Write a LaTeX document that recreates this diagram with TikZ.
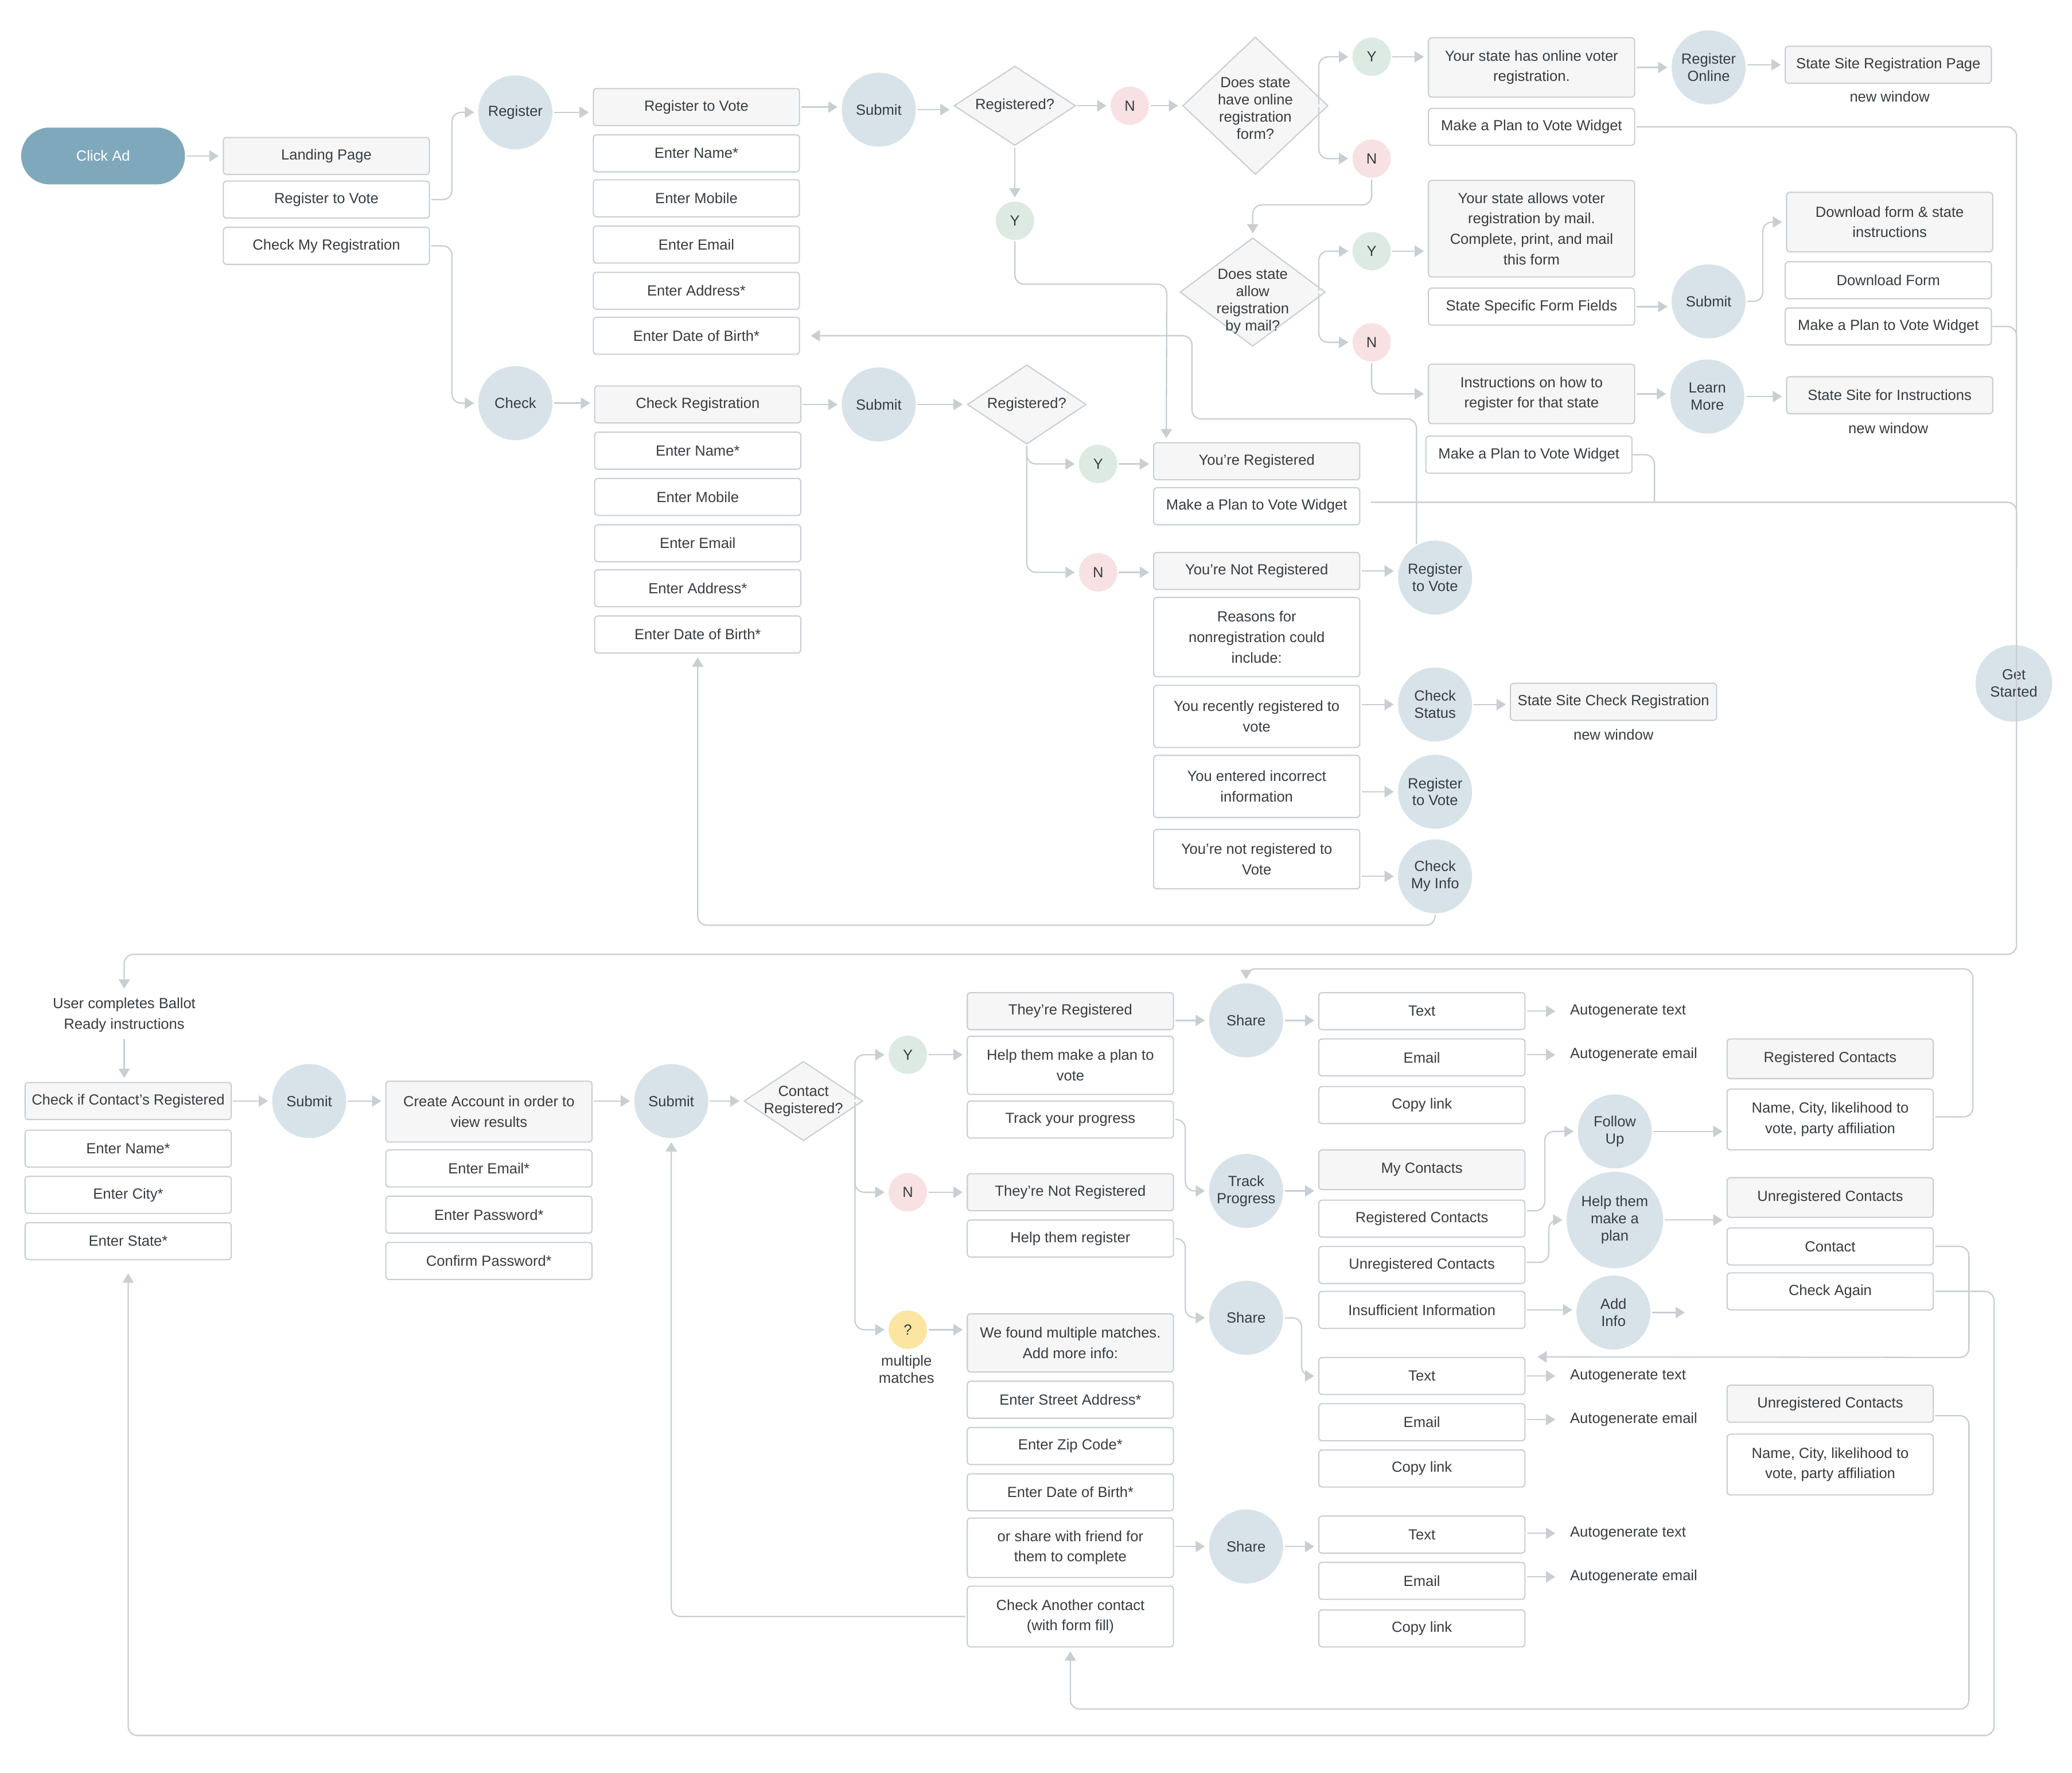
\documentclass[tikz,border=0pt]{standalone}
\usepackage{fontspec}
\setmainfont{Liberation Sans}
\usetikzlibrary{arrows.meta,shapes.geometric}
\definecolor{bd}{HTML}{C9CED3}
\definecolor{lnc}{HTML}{C9CED3}
\definecolor{gf}{HTML}{F6F6F6}
\definecolor{cf}{HTML}{D8E3E9}
\definecolor{adc}{HTML}{7FA8BC}
\definecolor{yf}{HTML}{DCEAE3}
\definecolor{nf}{HTML}{F8E1E3}
\definecolor{qf}{HTML}{FBE5A1}
\definecolor{tc}{HTML}{363C41}
\newcommand\bfnt{\fontsize{11.1}{15.5}\selectfont}
\newcommand\cfnt{\fontsize{11.1}{13}\selectfont}
\tikzset{
  bx/.style={rectangle, rounded corners=2.5pt, draw=bd, line width=0.9pt, fill=white,
    minimum width=156pt, minimum height=28pt, inner sep=1pt, align=center, text=tc, font=\bfnt},
  gbx/.style={bx, fill=gf},
  cir/.style={circle, fill=cf, minimum size=56pt, inner sep=0pt, align=center, text=tc, font=\cfnt},
  yc/.style={circle, fill=yf, minimum size=29pt, inner sep=0pt, text=tc, font=\cfnt},
  nc/.style={yc, fill=nf},
  qc/.style={yc, fill=qf},
  dsh/.style={diamond, draw=bd, line width=0.9pt, fill=gf, inner sep=0pt},
  txt/.style={align=center, text=tc, inner sep=1pt, font=\cfnt},
  lab/.style={anchor=west, text=tc, inner sep=0pt, font=\bfnt},
  arr/.style={draw=lnc, line width=1pt, -{Triangle[length=7pt,width=8.5pt]}, shorten >=3pt, shorten <=1pt},
  cline/.style={draw=lnc, line width=1pt},
  rcr/.style={rounded corners=7pt}
}
\begin{document}
\begin{tikzpicture}[x=1pt,y=-1pt]
\fill[white] (0,0) rectangle (1568,1341);
\useasboundingbox (0,0) rectangle (1568,1341);

% ---------------- top: entry
\node[rectangle, rounded corners=21.5pt, fill=adc, minimum width=124pt, minimum height=43pt, text=white, font=\bfnt] (ad) at (78,118) {Click Ad};
\node[gbx] (lp) at (247,118) {Landing Page};
\node[bx] (rv0) at (247,151) {Register to Vote};
\node[bx] (cmr) at (247,186) {Check My Registration};
\node[cir] (reg) at (390,85) {Register};
\node[cir] (chk) at (390,305) {Check};

% register column
\node[gbx] (f1) at (527,81) {Register to Vote};
\node[bx] (f2) at (527,116) {Enter Name*};
\node[bx] (f3) at (527,150) {Enter Mobile};
\node[bx] (f4) at (527,185) {Enter Email};
\node[bx] (f5) at (527,220) {Enter Address*};
\node[bx] (f6) at (527,254) {Enter Date of Birth*};
\node[cir] (sub1) at (665,83) {Submit};
\node[dsh, minimum width=92pt, minimum height=60pt] (q1) at (768,80) {};
\node[txt] (q1t) at (q1) {Registered?};
\node[nc] (n1) at (855,80) {N};
\node[dsh, minimum width=110pt, minimum height=104pt] (q2) at (950,80) {};
\node[txt] (q2t) at (950,82) {Does state\\have online\\registration\\form?};
\node[yc] (y1) at (1038,43) {Y};
\node[nc] (n2) at (1038,120) {N};
\node[gbx, minimum height=45pt] (os) at (1159,51) {Your state has online voter\\registration.};
\node[cir] (ro) at (1293,51) {Register\\Online};
\node[gbx] (ssr) at (1429,49) {State Site Registration Page};
\node[txt] (nw1) at (1430,73) {new window};
\node[bx] (mp1) at (1159,96) {Make a Plan to Vote Widget};

\node[dsh, minimum width=110pt, minimum height=82pt] (q3) at (948,221) {};
\node[txt] (q3t) at (948,228) {Does state\\allow\\reigstration\\by mail?};
\node[yc] (y2) at (1038,190) {Y};
\node[nc] (n3) at (1038,259) {N};
\node[gbx, minimum height=73pt] (bm) at (1159,173) {Your state allows voter\\registration by mail.\\Complete, print, and mail\\this form};
\node[bx] (sff) at (1159,232) {State Specific Form Fields};
\node[cir] (sub2) at (1293,228) {Submit};
\node[gbx, minimum height=45pt] (dfi) at (1430,168) {Download form \& state\\instructions};
\node[bx] (df) at (1429,212) {Download Form};
\node[bx] (mp2) at (1429,247) {Make a Plan to Vote Widget};
\node[gbx, minimum height=45pt] (ins) at (1159,298) {Instructions on how to\\register for that state};
\node[cir] (lm) at (1292,300) {Learn\\More};
\node[gbx] (ssi) at (1430,299) {State Site for Instructions};
\node[txt] (nw2) at (1429,324) {new window};
\node[bx] (mp3) at (1157,344) {Make a Plan to Vote Widget};

\node[yc] (y0) at (768,167) {Y};

% check column
\node[gbx] (c1) at (528,306) {Check Registration};
\node[bx] (c2) at (528,341) {Enter Name*};
\node[bx] (c3) at (528,376) {Enter Mobile};
\node[bx] (c4) at (528,411) {Enter Email};
\node[bx] (c5) at (528,445) {Enter Address*};
\node[bx] (c6) at (528,480) {Enter Date of Birth*};
\node[cir] (sub3) at (665,306) {Submit};
\node[dsh, minimum width=90pt, minimum height=60pt] (q4) at (777,306) {};
\node[txt] (q4t) at (q4) {Registered?};
\node[yc] (y3) at (831,351) {Y};
\node[nc] (n4) at (831,433) {N};
\node[gbx] (yr) at (951,349) {You’re Registered};
\node[bx] (mp4) at (951,383) {Make a Plan to Vote Widget};
\node[gbx] (ynr) at (951,432) {You’re Not Registered};
\node[cir] (rtv2) at (1086,437) {Register\\to Vote};
\node[bx, minimum height=60pt] (rsn) at (951,482) {Reasons for\\nonregistration could\\include:};
\node[bx, minimum height=47pt] (rr) at (951,542) {You recently registered to\\vote};
\node[cir] (cs) at (1086,533) {Check\\Status};
\node[gbx] (sscr) at (1221,531) {State Site Check Registration};
\node[txt] (nw3) at (1221,556) {new window};
\node[bx, minimum height=47pt] (inc) at (951,595) {You entered incorrect\\information};
\node[cir] (rtv3) at (1086,599) {Register\\to Vote};
\node[bx, minimum height=45pt] (nrv) at (951,650) {You’re not registered to\\Vote};
\node[cir] (cmi) at (1086,663) {Check\\My Info};
\node[cir, minimum size=58pt] (gs) at (1524,517) {Get\\Started};

% ---------------- bottom
\node[txt, font=\bfnt, inner sep=4pt] (ubr) at (94,768) {User completes Ballot\\Ready instructions};
\node[gbx] (k1) at (97,833) {Check if Contact’s Registered};
\node[bx] (k2) at (97,869) {Enter Name*};
\node[bx] (k3) at (97,904) {Enter City*};
\node[bx] (k4) at (97,939) {Enter State*};
\node[cir] (sub4) at (234,833) {Submit};
\node[gbx, minimum height=46pt] (ca) at (370,841) {Create Account in order to\\view results};
\node[bx] (ca2) at (370,884) {Enter Email*};
\node[bx] (ca3p) at (370,919) {Enter Password*};
\node[bx] (ca4) at (370,954) {Confirm Password*};
\node[cir] (sub5) at (508,833) {Submit};
\node[dsh, minimum width=90pt, minimum height=60pt] (q5) at (608,833) {};
\node[txt] (q5t) at (q5) {Contact\\Registered?};
\node[yc] (y5) at (687,798) {Y};
\node[nc] (n5) at (687,902) {N};
\node[qc] (qm) at (687,1006) {?};
\node[txt] (mm) at (686,1036) {multiple\\matches};

\node[gbx] (tr) at (810,765) {They’re Registered};
\node[bx, minimum height=44pt] (hp) at (810,806) {Help them make a plan to\\vote};
\node[bx] (typ) at (810,847) {Track your progress};
\node[gbx] (tnr) at (810,902) {They’re Not Registered};
\node[bx] (hr) at (810,937) {Help them register};
\node[gbx, minimum height=44pt] (wf) at (810,1016) {We found multiple matches.\\Add more info:};
\node[bx] (w2) at (810,1059) {Enter Street Address*};
\node[bx] (w3) at (810,1094) {Enter Zip Code*};
\node[bx] (w4) at (810,1129) {Enter Date of Birth*};
\node[bx, minimum height=45pt] (osf) at (810,1171) {or share with friend for\\them to complete};
\node[bx, minimum height=46pt] (cac) at (810,1223) {Check Another contact\\(with form fill)};

\node[cir] (sh1) at (943,772) {Share};
\node[cir] (tp) at (943,901) {Track\\Progress};
\node[cir] (sh2) at (943,997) {Share};
\node[cir] (sh3) at (943,1170) {Share};

\node[bx] (t1) at (1076,765) {Text};
\node[bx] (e1) at (1076,800) {Email};
\node[bx] (cl1) at (1076,836) {Copy link};
\node[lab] (at1) at (1188,765) {Autogenerate text};
\node[lab] (ae1) at (1188,798) {Autogenerate email};

\node[gbx, minimum height=30pt] (myc) at (1076,885) {My Contacts};
\node[bx] (rcn) at (1076,922) {Registered Contacts};
\node[bx] (urc) at (1076,957) {Unregistered Contacts};
\node[bx] (ii) at (1076,991) {Insufficient Information};
\node[cir] (fu) at (1222,856) {Follow\\Up};
\node[cir, minimum size=73pt] (hmp) at (1222,923) {Help them\\make a\\plan};
\node[cir] (ai) at (1221,993) {Add\\Info};
\coordinate (aiend) at (1278,993);
\node[gbx, minimum height=30pt] (rcon) at (1385,801) {Registered Contacts};
\node[bx, minimum height=46pt] (ncl1) at (1385,847) {Name, City, likelihood to\\vote, party affiliation};
\node[gbx, minimum height=30pt] (ucon) at (1385,906) {Unregistered Contacts};
\node[bx] (con) at (1385,943) {Contact};
\node[bx] (chka) at (1385,977) {Check Again};

\node[bx] (t2) at (1076,1041) {Text};
\node[bx] (e2) at (1076,1076) {Email};
\node[bx] (cl2) at (1076,1111) {Copy link};
\node[lab] (at2) at (1188,1041) {Autogenerate text};
\node[lab] (ae2) at (1188,1074) {Autogenerate email};
\node[gbx] (ucon2) at (1385,1062) {Unregistered Contacts};
\node[bx, minimum height=46pt] (ncl2) at (1385,1108) {Name, City, likelihood to\\vote, party affiliation};

\node[bx] (t3) at (1076,1161) {Text};
\node[bx] (e3) at (1076,1196) {Email};
\node[bx] (cl3) at (1076,1232) {Copy link};
\node[lab] (at3) at (1188,1160) {Autogenerate text};
\node[lab] (ae3) at (1188,1193) {Autogenerate email};

% junction coordinates
\coordinate (j1) at (998,80);
\coordinate (j2) at (998,221);
\coordinate (j5) at (647,833);

% ---------------- connectors (top)
\draw[arr] (ad.east) -- (ad.east -| lp.west);
\draw[arr,rcr] (rv0.east) -- (342,151) |- (reg.west);
\draw[arr,rcr] (cmr.east) -- (342,186) |- (chk.west);
\draw[arr] (reg.east) -- (reg.east -| f1.west);
\draw[arr] (f1.east) -- (f1.east -| sub1.west);
\draw[arr] (sub1.east) -- (sub1.east -| q1.west);
\draw[arr] (q1.east) -- (q1.east -| n1.west);
\draw[arr] (n1.east) -- (n1.east -| q2.west);
\draw[arr,rcr] (j1) |- (y1.west);
\draw[arr,rcr] (j1) |- (n2.west);
\draw[arr] (y1.east) -- (y1.east -| os.west);
\draw[arr] (os.east) -- (os.east -| ro.west);
\draw[arr] (ro.east |- ssr) -- (ssr.west);
\draw[arr,rcr] (n2.south) -- (1038,155) -| (q3.north);
\draw[arr,rcr] (j2) |- (y2.west);
\draw[arr,rcr] (j2) |- (n3.west);
\draw[arr] (y2.east) -- (y2.east -| bm.west);
\draw[arr] (sff.east) -- (sff.east -| sub2.west);
\draw[arr,rcr] (sub2.east) -- (1334,228) |- (dfi.west);
\draw[arr,rcr] (n3.south) |- (ins.west);
\draw[arr] (ins.east) -- (ins.east -| lm.west);
\draw[arr] (lm.east) -- (lm.east -| ssi.west);
\draw[arr] (q1.south) -- (y0.north);
\draw[arr,rcr] (y0.south) |- (883,215) -- ([xshift=10pt]yr.north west);

\draw[arr] (chk.east) -- (chk.east -| c1.west);
\draw[arr] (c1.east) -- (c1.east -| sub3.west);
\draw[arr] (sub3.east) -- (sub3.east -| q4.west);
\draw[arr,rcr] (q4.south) |- (y3.west);
\draw[arr,rcr] (q4.south) |- (n4.west);
\draw[arr] (y3.east) -- (y3.east -| yr.west);
\draw[arr] (n4.east) -- (n4.east -| ynr.west);
\draw[arr] (ynr.east) -- (ynr.east -| rtv2.west);
\draw[arr] (rr.east |- cs) -- (cs.west);
\draw[arr] (cs.east) -- (cs.east -| sscr.west);
\draw[arr] (inc.east |- rtv3) -- (rtv3.west);
\draw[arr] (nrv.east |- cmi) -- (cmi.west);
\draw[arr,rcr] (rtv2.120) |- (902,317) |- ([xshift=5pt]f6.east);
\draw[arr,rcr] (cmi.south) -- (1086,700) -| (c6.south);

% long right-hand line
\draw[arr,rcr] (mp1.east) -| (1526,722) -| (ubr.north);
\draw[cline,rcr] (mp2.east) -| (1526,300);
\draw[cline,rcr] (mp3.east) -| (1252,380);
\draw[cline,rcr] ([shift={(8,-3)}]mp4.east) -| (1526,430);

% ---------------- connectors (bottom)
\draw[arr] (ubr.south) -- (ubr.south |- k1.north);
\draw[arr] (k1.east) -- (k1.east -| sub4.west);
\draw[arr] (sub4.east) -- (sub4.east -| ca.west);
\draw[arr] (ca.east |- sub5) -- (sub5.west);
\draw[arr] (sub5.east) -- (sub5.east -| q5.west);
\draw[arr,rcr] (j5) |- (y5.west);
\draw[arr,rcr] (j5) |- (n5.west);
\draw[arr,rcr] (j5) |- (qm.west);
\draw[arr] (y5.east) -- (y5.east -| hp.west);
\draw[arr] (n5.east) -- (n5.east -| tnr.west);
\draw[arr] (qm.east) -- (qm.east -| wf.west);
\draw[arr,rcr] (cac.west) -| (sub5.south);
\draw[arr] (tr.east |- sh1) -- (sh1.west);
\draw[arr,rcr] (typ.east) -- (897,847) |- (tp.west);
\draw[arr,rcr] (hr.east) -- (897,937) |- (sh2.west);
\draw[arr] (osf.east |- sh3) -- (sh3.west);

\draw[arr] (sh1.east) -- (sh1.east -| t1.west);
\draw[arr] (t1.east) -- ([xshift=-8pt]at1.west);
\draw[arr] (e1.east |- ae1) -- ([xshift=-8pt]ae1.west);
\draw[arr] (tp.east) -- (tp.east -| myc.west);
\draw[arr,rcr] ([yshift=6pt]rcn.east) -- (1169,916) |- (fu.west);
\draw[arr,rcr] ([yshift=2pt]urc.east) -- (1172,955) |- (hmp.west);
\draw[arr] (ii.east) -- (ii.east -| ai.west);
\draw[arr] (ai.east) -- (aiend);
\draw[arr] (fu.east) -- (fu.east -| ncl1.west);
\draw[arr] (hmp.east) -- (hmp.east -| ucon.west);
\draw[arr,rcr] ([yshift=2pt]ncl1.east) -| (1493,733) -| (sh1.north);
\draw[arr,rcr] (con.east) -| (1490,1027) -- ([xshift=6pt]t2.north east);

\draw[arr,rcr] (sh2.east) -- (985,997) |- (t2.west);
\draw[arr] (t2.east) -- ([xshift=-8pt]at2.west);
\draw[arr] (e2.east |- ae2) -- ([xshift=-8pt]ae2.west);
\draw[arr,rcr] ([yshift=-9pt]ucon2.east) -| (1490,1293) -| (cac.south);
\draw[arr,rcr] (chka.east) -| (1509,1313) -| ([yshift=-7pt]k4.south);

\draw[arr] (sh3.east) -- (sh3.east -| t3.west);
\draw[arr] (t3.east |- at3) -- ([xshift=-8pt]at3.west);
\draw[arr] (e3.east |- ae3) -- ([xshift=-8pt]ae3.west);
\end{tikzpicture}
\end{document}
